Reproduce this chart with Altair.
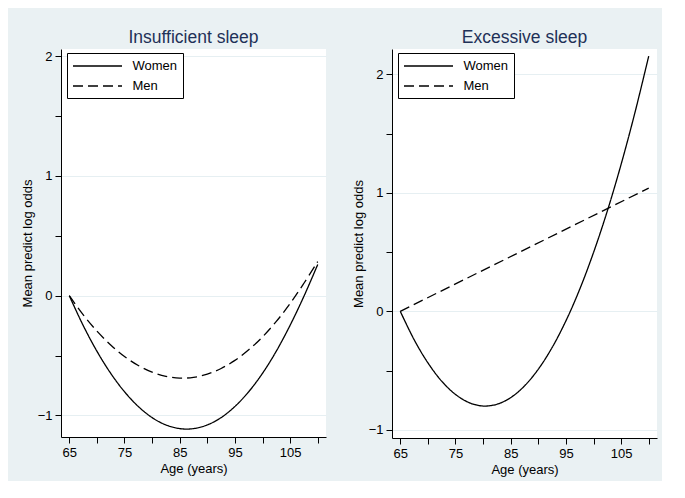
import altair as alt
import pandas as pd

ages = [65, 67.5, 70, 72.5, 75, 77.5, 80, 82.5, 85, 87.5, 90, 92.5, 95,
        97.5, 100, 102.5, 105, 107.5, 110]
ins_women = [0.0, -0.247, -0.463, -0.648, -0.802, -0.925, -1.018, -1.079, -1.110,
             -1.110, -1.079, -1.018, -0.925, -0.802, -0.648, -0.463, -0.247, -0.005, 0.26]
ins_men = [0.0, -0.158, -0.295, -0.411, -0.508, -0.583, -0.639, -0.673, -0.688,
           -0.682, -0.655, -0.608, -0.540, -0.452, -0.344, -0.215, -0.066, 0.104, 0.285]
exc_women = [0.0, -0.239, -0.435, -0.590, -0.702, -0.772, -0.800, -0.785, -0.729,
             -0.630, -0.489, -0.306, -0.081, 0.186, 0.496, 0.847, 1.241, 1.677, 2.155]
exc_men_ages = [65, 110]
exc_men = [0.0, 1.04]

sexes = ["Women", "Men"]
titles = ["Insufficient sleep", "Excessive sleep"]
x_ticks = [65, 70, 75, 80, 85, 90, 95, 100, 105, 110]
y_ticks = [-1, -0.5, 0, 0.5, 1, 1.5, 2]

FONT = "Liberation Sans"

df_ins = pd.DataFrame({
    "age": ages + ages,
    "value": ins_women + ins_men,
    "sex": [sexes[0]] * len(ages) + [sexes[1]] * len(ages),
})
df_exc = pd.DataFrame({
    "age": ages + exc_men_ages,
    "value": exc_women + exc_men,
    "sex": [sexes[0]] * len(ages) + [sexes[1]] * len(exc_men_ages),
})


def panel(df, title, ydomain, height):
    return alt.Chart(df).mark_line(
        color="black", strokeWidth=1.3, interpolate="catmull-rom"
    ).encode(
        x=alt.X("age:Q", title="Age (years)",
                scale=alt.Scale(domain=[63.5, 111.5], nice=False, zero=False),
                axis=alt.Axis(values=x_ticks, grid=False,
                              labelExpr="(datum.value - 65) % 10 === 0 ? datum.label : ''")),
        y=alt.Y("value:Q", title="Mean predict log odds",
                scale=alt.Scale(domain=ydomain, nice=False, zero=False),
                axis=alt.Axis(values=y_ticks, grid=True,
                              gridOpacity={"condition": {"test": "datum.value % 1 === 0", "value": 1}, "value": 0},
                              labelExpr="datum.value % 1 === 0 ? format(datum.value, 'd') : ''")),
        strokeDash=alt.StrokeDash("sex:N",
                                  scale=alt.Scale(domain=sexes, range=[[1, 0], [10, 5]]),
                                  legend=alt.Legend(title=None, orient="none", legendX=6, legendY=4,
                                                    symbolType="M-3.5,0H3.5", symbolSize=196,
                                                    symbolOffset=17.5,
                                                    symbolStrokeColor="black", symbolStrokeWidth=1.3,
                                                    labelFontSize=13, labelFont=FONT, labelColor="black",
                                                    labelOffset=27, padding=5, rowPadding=5,
                                                    strokeColor="black", fillColor="white",
                                                    cornerRadius=0)),
        detail="sex:N",
    ).properties(
        width=265, height=height,
        title=alt.TitleParams(title, fontSize=17.5, font=FONT, fontWeight="normal",
                              color="#1F3158", anchor="middle", frame="group",
                              baseline="alphabetic", offset=-11),
    )


left = panel(df_ins, titles[0], [-1.18, 2.06], 388)
right = panel(df_exc, titles[1], [-1.07, 2.215], 389)

chart = alt.hconcat(left, right, spacing=26).resolve_scale(
    x="independent", y="independent"
).resolve_legend(strokeDash="independent").properties(
    background="#EAF1F3",
    padding={"left": 13, "top": 20, "right": 5, "bottom": 5},
).configure_view(
    fill="white", strokeWidth=0
).configure_axis(
    domainColor="black", tickColor="black", labelColor="black", titleColor="black",
    labelFont=FONT, titleFont=FONT, labelFontSize=13, titleFontSize=13,
    titleFontWeight="normal", tickSize=6, labelPadding=3, titlePadding=3,
    gridColor="#E6EFF2", domainWidth=1, tickWidth=1,
)

chart.save("out.html", embed_options={"renderer": "svg", "actions": False})
